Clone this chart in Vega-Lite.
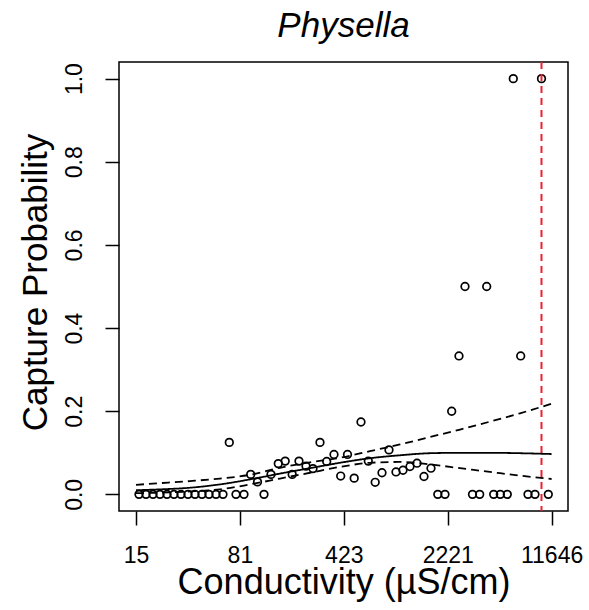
{
  "$schema": "https://vega.github.io/schema/vega-lite/v6.json",
  "width": 449,
  "height": 449,
  "autosize": {"type": "none"},
  "padding": {"left": 119, "top": 62, "right": 21, "bottom": 99},
  "background": "white",
  "config": {
    "view": {"stroke": "black", "strokeWidth": 1.5},
    "font": "Liberation Sans"
  },
  "title": {
    "text": "Physella",
    "font": "Liberation Sans",
    "fontSize": 35,
    "fontStyle": "italic",
    "fontWeight": "normal",
    "color": "black",
    "anchor": "middle",
    "frame": "group",
    "baseline": "alphabetic",
    "offset": 23,
    "dy": 34
  },
  "datasets": {
    "points": [
      {"cond": 16.15, "p": 0}, {"cond": 18.06, "p": 0}, {"cond": 20.19, "p": 0}, {"cond": 22.57, "p": 0},
      {"cond": 25.24, "p": 0}, {"cond": 28.22, "p": 0}, {"cond": 31.55, "p": 0}, {"cond": 35.28, "p": 0},
      {"cond": 39.45, "p": 0}, {"cond": 44.10, "p": 0}, {"cond": 49.32, "p": 0}, {"cond": 55.14, "p": 0},
      {"cond": 61.66, "p": 0}, {"cond": 68.17, "p": 0.125}, {"cond": 75.86, "p": 0}, {"cond": 86.18, "p": 0},
      {"cond": 95.90, "p": 0.048}, {"cond": 106.9, "p": 0.030}, {"cond": 118.6, "p": 0}, {"cond": 132.6, "p": 0.048},
      {"cond": 148.9, "p": 0.074}, {"cond": 166.3, "p": 0.080}, {"cond": 185.9, "p": 0.048}, {"cond": 207.2, "p": 0.080},
      {"cond": 231.7, "p": 0.068}, {"cond": 259.0, "p": 0.062}, {"cond": 289.6, "p": 0.125}, {"cond": 322.3, "p": 0.079},
      {"cond": 362.1, "p": 0.096}, {"cond": 402.9, "p": 0.044}, {"cond": 449.1, "p": 0.096}, {"cond": 499.7, "p": 0.039},
      {"cond": 557.0, "p": 0.174}, {"cond": 625.7, "p": 0.080}, {"cond": 698.5, "p": 0.029}, {"cond": 778.5, "p": 0.052},
      {"cond": 870.5, "p": 0.107}, {"cond": 973.3, "p": 0.054}, {"cond": 1088.3, "p": 0.058}, {"cond": 1216.8, "p": 0.067},
      {"cond": 1360.6, "p": 0.075}, {"cond": 1521.3, "p": 0.043}, {"cond": 1700.9, "p": 0.063}, {"cond": 1895.8, "p": 0},
      {"cond": 2126.4, "p": 0}, {"cond": 2366.3, "p": 0.2}, {"cond": 2658.4, "p": 0.333}, {"cond": 2925.5, "p": 0.5},
      {"cond": 3297.1, "p": 0}, {"cond": 3698.6, "p": 0}, {"cond": 4135.2, "p": 0.5}, {"cond": 4623.5, "p": 0},
      {"cond": 5136.9, "p": 0}, {"cond": 5744.0, "p": 0}, {"cond": 6320.2, "p": 1}, {"cond": 7112.4, "p": 0.333},
      {"cond": 7990.4, "p": 0}, {"cond": 8933.8, "p": 0}, {"cond": 9910.0, "p": 1}, {"cond": 11045.8, "p": 0}
    ],
    "curves": [
      {"cond": 15.39, "p": 0.010, "series": "fit"}, {"cond": 22.57, "p": 0.012, "series": "fit"},
      {"cond": 36.42, "p": 0.016, "series": "fit"}, {"cond": 58.78, "p": 0.024, "series": "fit"},
      {"cond": 94.84, "p": 0.036, "series": "fit"}, {"cond": 153.0, "p": 0.050, "series": "fit"},
      {"cond": 246.9, "p": 0.063, "series": "fit"}, {"cond": 398.5, "p": 0.076, "series": "fit"},
      {"cond": 643.0, "p": 0.087, "series": "fit"}, {"cond": 1037.4, "p": 0.094, "series": "fit"},
      {"cond": 1674.0, "p": 0.099, "series": "fit"}, {"cond": 2701.3, "p": 0.100, "series": "fit"},
      {"cond": 4358.6, "p": 0.100, "series": "fit"}, {"cond": 7033.2, "p": 0.099, "series": "fit"},
      {"cond": 11646, "p": 0.097, "series": "fit"},
      {"cond": 15.39, "p": 0.023, "series": "upper"}, {"cond": 22.57, "p": 0.027, "series": "upper"},
      {"cond": 36.42, "p": 0.032, "series": "upper"}, {"cond": 58.78, "p": 0.038, "series": "upper"},
      {"cond": 94.84, "p": 0.047, "series": "upper"}, {"cond": 153.0, "p": 0.064, "series": "upper"},
      {"cond": 246.9, "p": 0.077, "series": "upper"}, {"cond": 398.5, "p": 0.088, "series": "upper"},
      {"cond": 643.0, "p": 0.104, "series": "upper"}, {"cond": 1037.4, "p": 0.120, "series": "upper"},
      {"cond": 1674.0, "p": 0.138, "series": "upper"}, {"cond": 2701.3, "p": 0.156, "series": "upper"},
      {"cond": 4358.6, "p": 0.175, "series": "upper"}, {"cond": 7033.2, "p": 0.195, "series": "upper"},
      {"cond": 11646, "p": 0.218, "series": "upper"},
      {"cond": 15.39, "p": 0.003, "series": "lower"}, {"cond": 22.57, "p": 0.004, "series": "lower"},
      {"cond": 36.42, "p": 0.007, "series": "lower"}, {"cond": 58.78, "p": 0.012, "series": "lower"},
      {"cond": 94.84, "p": 0.024, "series": "lower"}, {"cond": 153.0, "p": 0.038, "series": "lower"},
      {"cond": 246.9, "p": 0.052, "series": "lower"}, {"cond": 398.5, "p": 0.066, "series": "lower"},
      {"cond": 643.0, "p": 0.076, "series": "lower"}, {"cond": 1037.4, "p": 0.078, "series": "lower"},
      {"cond": 1674.0, "p": 0.072, "series": "lower"}, {"cond": 2701.3, "p": 0.063, "series": "lower"},
      {"cond": 4358.6, "p": 0.054, "series": "lower"}, {"cond": 7033.2, "p": 0.045, "series": "lower"},
      {"cond": 11646, "p": 0.037, "series": "lower"}
    ],
    "threshold": [{"cond": 9910}]
  },
  "layer": [
    {
      "data": {"name": "points"},
      "mark": {"type": "point", "shape": "circle", "filled": false, "stroke": "black", "strokeWidth": 1.7, "size": 58, "opacity": 1},
      "encoding": {
        "x": {
          "field": "cond", "type": "quantitative",
          "scale": {"type": "log", "domain": [11.74, 15125], "nice": false},
          "axis": {
            "title": "Conductivity (µS/cm)",
            "values": [15.39, 80.74, 423.44, 2220.8, 11646],
            "format": ".0f",
            "grid": false, "domain": false,
            "tickSize": 14, "tickWidth": 1.5, "tickColor": "black",
            "labelFont": "Liberation Sans", "labelFontSize": 23, "labelColor": "black",
            "labelPadding": 19, "labelBaseline": "top", "labelAlign": "center",
            "labelFlush": false, "labelOverlap": false,
            "titleFont": "Liberation Sans", "titleFontSize": 36, "titleFontWeight": "normal", "titleColor": "black",
            "titleBaseline": "alphabetic", "titleY": 82
          }
        },
        "y": {
          "field": "p", "type": "quantitative",
          "scale": {"domain": [-0.04, 1.04], "nice": false, "zero": false},
          "axis": {
            "title": "Capture Probability",
            "values": [0, 0.2, 0.4, 0.6, 0.8, 1.0],
            "format": ".1f",
            "grid": false, "domain": false,
            "tickSize": 14, "tickWidth": 1.5, "tickColor": "black",
            "labelFont": "Liberation Sans", "labelFontSize": 23, "labelColor": "black",
            "labelAngle": -90, "labelAlign": "center", "labelBaseline": "alphabetic",
            "labelPadding": 24, "labelFlush": false, "labelOverlap": false,
            "titleFont": "Liberation Sans", "titleFontSize": 35, "titleFontWeight": "normal", "titleColor": "black",
            "titleAngle": -90, "titleAlign": "center", "titleBaseline": "alphabetic",
            "titleX": -73, "titleY": 220
          }
        }
      }
    },
    {
      "data": {"name": "curves"},
      "mark": {"type": "line", "color": "black", "strokeWidth": 1.8, "interpolate": "monotone"},
      "encoding": {
        "x": {"field": "cond", "type": "quantitative"},
        "y": {"field": "p", "type": "quantitative"},
        "detail": {"field": "series"},
        "strokeDash": {
          "field": "series", "type": "nominal",
          "scale": {"domain": ["fit", "upper", "lower"], "range": [[1, 0], [8, 5], [8, 5]]},
          "legend": null
        }
      }
    },
    {
      "data": {"name": "threshold"},
      "mark": {"type": "rule", "color": "#ee2030", "strokeWidth": 2, "strokeDash": [7, 5]},
      "encoding": {
        "x": {"field": "cond", "type": "quantitative"}
      }
    }
  ]
}
